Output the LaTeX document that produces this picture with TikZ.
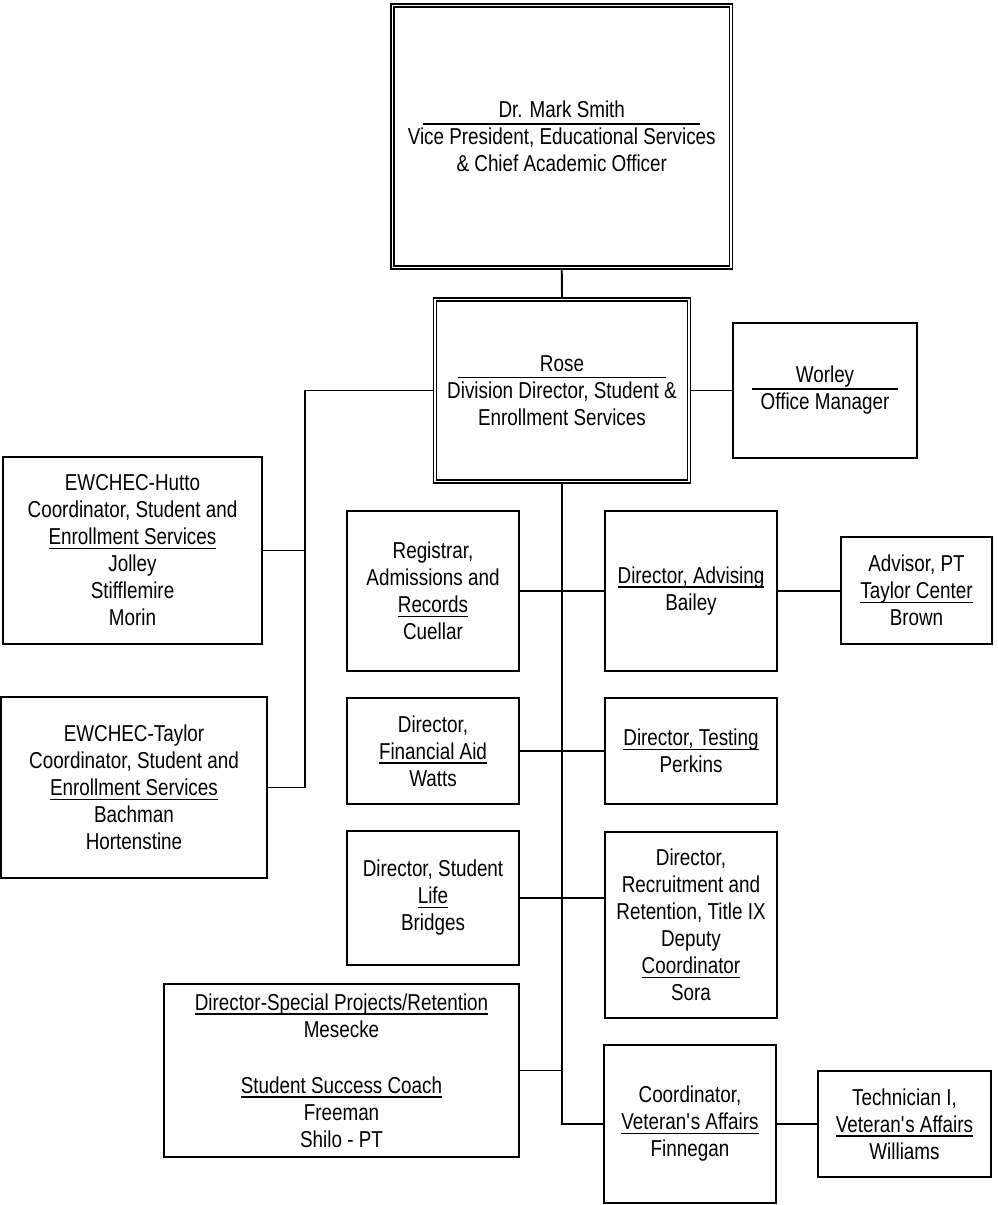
\documentclass[tikz,border=0pt]{standalone}
\usepackage{fontspec}
\setmainfont[FakeStretch=0.82]{Liberation Sans}
\newcommand{\ulin}[1]{\setbox0\hbox{#1}\rlap{\rule[-4.5pt]{\wd0}{1.5pt}}\box0}
\newcommand{\headline}[2]{\makebox[#1]{#2}\llap{\rule[-7pt]{#1}{1.8pt}}}
\newcommand{\apos}{\textquotesingle}
\begin{document}
\begin{tikzpicture}[x=1pt, y=-1pt, line width=1.9pt,
    box/.style={draw, line width=1.9pt, inner sep=0pt, align=center,
        font=\fontsize{23}{27}\selectfont},
    dblbox/.style={box, double, double distance=1.8pt, line width=1.5pt}]
        \useasboundingbox (0,0) rectangle (997,1205);

        % Top of the chart
        \node[dblbox, minimum width=338.5pt, minimum height=262pt] (smith) at (561.75,136.5)
            {\headline{277pt}{Dr. Mark Smith}\\Vice President, Educational Services\\\& Chief Academic Officer};
        \node[dblbox, minimum width=254pt, minimum height=182pt] (rose) at (562,390.5)
            {\headline{208pt}{Rose}\\Division Director, Student \&\\Enrollment Services};
        \node[box, minimum width=184pt, minimum height=135pt] (worley) at (825,390.5)
            {\headline{146pt}{Worley}\\Office Manager};

        % EWCHEC centers (left branch)
        \node[box, minimum width=259pt, minimum height=187pt] (hutto) at (132.5,550.5)
            {EWCHEC-Hutto\\Coordinator, Student and\\\ulin{Enrollment Services}\\Jolley\\Stifflemire\\Morin};
        \node[box, minimum width=266pt, minimum height=181pt] (taylor) at (134,787.5)
            {EWCHEC-Taylor\\Coordinator, Student and\\\ulin{Enrollment Services}\\Bachman\\Hortenstine};

        % Directors along the trunk
        \node[box, minimum width=172pt, minimum height=160pt] (reg) at (433,591)
            {Registrar,\\Admissions and\\\ulin{Records}\\Cuellar};
        \node[box, minimum width=172pt, minimum height=160pt] (adv) at (691,591)
            {\ulin{Director, Advising}\\Bailey};
        \node[box, minimum width=151pt, minimum height=107pt] (brown) at (916.5,590.5)
            {Advisor, PT\\\ulin{Taylor Center}\\Brown};
        \node[box, minimum width=172pt, minimum height=106pt] (fin) at (433,751)
            {Director,\\\ulin{Financial Aid}\\Watts};
        \node[box, minimum width=172pt, minimum height=106pt] (test) at (691,751)
            {\ulin{Director, Testing}\\Perkins};
        \node[box, minimum width=172pt, minimum height=134pt] (life) at (433,898)
            {Director, Student\\\ulin{Life}\\Bridges};
        \node[box, minimum width=172pt, minimum height=186pt] (recr) at (691,925)
            {Director,\\Recruitment and\\Retention, Title IX\\Deputy\\\ulin{Coordinator}\\Sora};
        \node[box, minimum width=355pt, minimum height=173pt] (spec) at (341.5,1070.5)
            {\ulin{Director-Special Projects/Retention}\\Mesecke\\[29pt]\ulin{Student Success Coach}\\Freeman\\Shilo - PT};
        \node[box, minimum width=172pt, minimum height=158pt] (vet) at (690,1124)
            {Coordinator,\\\ulin{Veteran\apos s Affairs}\\Finnegan};
        \node[box, minimum width=173pt, minimum height=106pt] (wil) at (904.5,1124)
            {Technician I,\\\ulin{Veteran\apos s Affairs}\\Williams};

        % Connectors
        \coordinate (lbus) at (305,390.5);
        \draw (smith.south) -- (rose.north);
        \draw (rose.east) -- (worley.west);
        \draw (rose.west) -- (lbus) |- (taylor.east);
        \draw (hutto.east) -- (hutto.east -| lbus);
        \draw (rose.south) |- (vet.west);
        \draw (reg.east) -- (adv.west);
        \draw (adv.east) -- (adv.east -| brown.west);
        \draw (fin.east) -- (test.west);
        \draw (life.east) -- (life.east -| recr.west);
        \draw (spec.east) -- (spec.east -| rose.south);
        \draw (vet.east) -- (wil.west);
\end{tikzpicture}
\end{document}
